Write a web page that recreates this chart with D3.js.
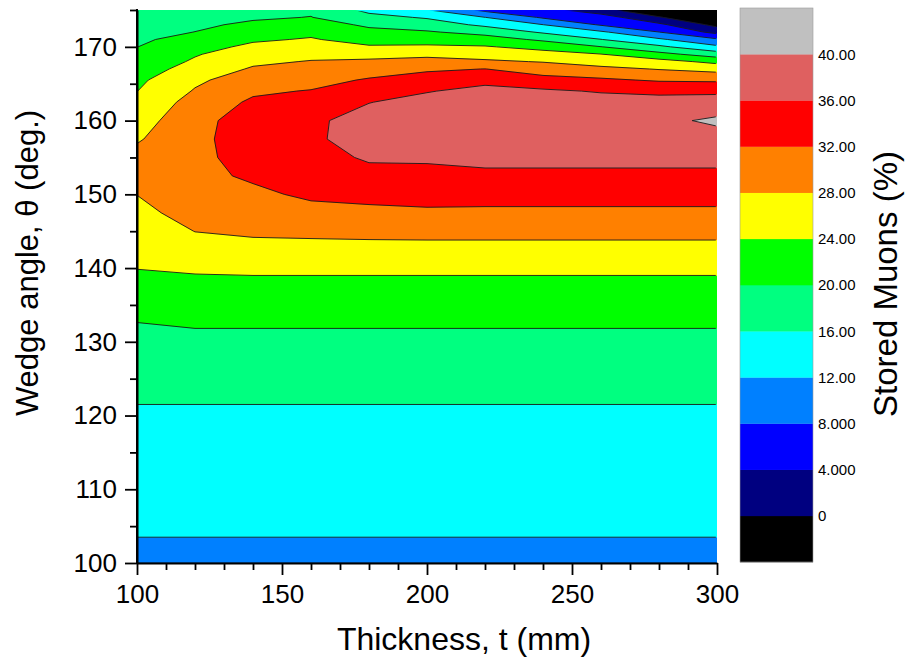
<!DOCTYPE html>
<html><head><meta charset="utf-8">
<script src="https://cdn.jsdelivr.net/npm/d3@7"></script>
<style>
body{margin:0;background:#fff}
svg{display:block}
text{font-family:"Liberation Sans",Arial,Helvetica,sans-serif;fill:#000}
</style>
</head><body>
<svg id="chart" width="910" height="660"></svg>
<script>
// ---------------- data ----------------
const thickness = [100,120,140,160,180,200,220,240,260,280,300];
const angles = [100,105,110,120,125,130,135,140,142.5,145,147.5,150,152.5,155,157.5,160,162.5,164,165.5,167,168,169,170,171,172,173,174,175];
// stored muons (%) : one profile (over angles) per thickness
const muonsT100 = [10.6,12.6,13.5,15.4,17.4,18.9,21.0,24.1,25.0,26.0,27.0,28.05,29.0,29.2,27.6,26.2,24.8,23.95,23.2,22.0,21.4,20.6,19.95,19.3,18.7,18.1,17.6,17.1];
const muonsT120 = [10.6,12.6,13.5,15.4,17.4,19.2,21.4,24.5,26.6,28.05,29.4,30.4,31.1,31.1,31.0,30.8,29.5,28.3,27.3,25.6,24.5,23.7,22.6,21.5,20.05,19.3,18.8,18.4];
const muonsT140 = [10.6,12.6,13.5,15.4,17.4,19.2,21.4,24.65,26.8,28.6,30.0,31.3,32.5,33.4,34.0,33.8,32.6,31.4,30.0,28.4,27.3,26.1,24.8,23.5,22.3,20.7,19.5,18.6];
const muonsT160 = [10.6,12.6,13.5,15.4,17.4,19.2,21.4,24.65,26.8,28.8,30.9,32.6,33.8,34.8,35.5,35.3,33.6,32.2,30.6,29.0,28.2,27.0,25.6,24.3,23.2,21.9,20.1,19.4];
const muonsT180 = [10.6,12.6,13.5,15.4,17.4,19.2,21.4,24.65,26.8,29.0,31.2,33.0,35.0,36.4,37.3,37.5,35.9,34.2,32.4,30.1,28.6,26.8,24.4,22.6,21.1,19.3,17.2,15.0];
const muonsT200 = [10.6,12.6,13.5,15.4,17.4,19.2,21.4,24.65,26.8,29.1,31.4,33.4,35.2,36.4,37.8,38.2,37.2,35.8,33.8,31.4,29.4,27.0,24.6,22.4,20.4,18.0,15.6,12.2];
const muonsT220 = [10.6,12.6,13.5,15.4,17.4,19.2,21.4,24.65,26.8,29.1,31.3,33.4,35.4,36.8,38.2,38.8,38.3,37.0,35.1,32.05,28.6,26.4,24.3,21.8,18.7,15.2,12.05,7.0];
const muonsT240 = [10.6,12.6,13.5,15.4,17.4,19.2,21.4,24.65,26.8,29.1,31.3,33.4,35.4,36.8,38.3,39.1,38.1,36.6,33.3,30.2,27.8,25.4,22.8,19.3,15.5,12.05,7.5,5.5];
const muonsT260 = [10.6,12.6,13.5,15.4,17.4,19.2,21.4,24.65,26.8,29.1,31.3,33.4,35.4,36.8,38.4,39.3,37.6,35.7,32.6,29.0,26.2,24.1,20.1,16.1,12.6,7.6,6.0,1.5];
const muonsT280 = [10.6,12.6,13.5,15.4,17.4,19.2,21.4,24.65,26.8,29.1,31.3,33.4,35.4,36.8,38.5,39.2,37.4,35.2,31.6,27.8,25.4,21.2,16.8,12.6,8.05,4.9,0.4,-4.0];
const muonsT300 = [10.6,12.6,13.5,15.4,17.4,19.2,21.4,24.65,26.8,29.1,31.3,33.4,35.4,36.8,38.6,40.6,37.8,35.2,31.4,26.6,23.0,18.0,12.8,8.6,2.8,-1.2,-5.0,-9.0];
const storedMuons = [muonsT100,muonsT120,muonsT140,muonsT160,muonsT180,muonsT200,muonsT220,muonsT240,muonsT260,muonsT280,muonsT300];

const levels = [0,4,8,12,16,20,24,28,32,36,40];
const levelLabels = ["0","4.000","8.000","12.00","16.00","20.00","24.00","28.00","32.00","36.00","40.00"];
const bandColors = ["#000000","#000080","#0000ff","#0080ff","#00ffff","#00ff80","#00ff00","#ffff00","#ff8000","#ff0000","#df6060","#c0c0c0"];
const xTicks = [100,150,200,250,300];
const xMinor = [110,120,130,140,160,170,180,190,210,220,230,240,260,270,280,290];
const yTicks = [100,110,120,130,140,150,160,170];
const yMinor = [105,115,125,135,145,155,165,175];

// ---------------- chart ----------------
const svg = d3.select("#chart");
const L = 137, R = 717, T = 10, B = 563;
const x = d3.scaleLinear([100,300],[L,R]);
const y = d3.scaleLinear([100,175],[B,T]);

const nx = thickness.length, ny = angles.length;
const values = new Array(nx*ny);
for (let j=0;j<ny;j++) for (let i=0;i<nx;i++) values[j*nx+i] = storedMuons[i][j];
const thresholds = [d3.min(values)-1, ...levels];
const contours = d3.contours().size([nx,ny]).thresholds(thresholds)(values);

const colIdx = d3.scaleLinear().domain(d3.range(nx)).range(thickness).clamp(true);
const rowIdx = d3.scaleLinear().domain(d3.range(ny)).range(angles).clamp(true);
const proj = d3.geoTransform({point(px,py){ this.stream.point(x(colIdx(px-0.5)), y(rowIdx(py-0.5))); }});
const path = d3.geoPath(proj);

const defs = svg.append("defs");
defs.append("clipPath").attr("id","plotClip").append("rect")
  .attr("x",L).attr("y",T).attr("width",R-L).attr("height",B-T);
defs.append("clipPath").attr("id","lineClip").append("rect")
  .attr("x",L+1).attr("y",T+1.2).attr("width",R-L-2.2).attr("height",B-T-2);

svg.append("g").attr("clip-path","url(#plotClip)")
  .selectAll("path").data(contours).join("path")
  .attr("d",path)
  .attr("fill",(d,i)=>bandColors[i])
  .attr("stroke",(d,i)=>bandColors[i]).attr("stroke-width",0.3);

svg.append("g").attr("clip-path","url(#lineClip)")
  .selectAll("path").data(contours.slice(1)).join("path")
  .attr("d",path)
  .attr("fill","none")
  .attr("stroke","#1a1a1a").attr("stroke-width",0.9);

// axes
function styleAxis(g){
  g.select(".domain").attr("stroke","#000").attr("stroke-width",2);
  g.selectAll(".tick line").attr("stroke","#000").attr("stroke-width",1.8);
  g.selectAll(".tick text").attr("font-size",26).attr("fill","#000")
    .attr("font-family","'Liberation Sans',Arial,sans-serif");
}
const gx = svg.append("g").attr("transform",`translate(0,${B})`)
  .call(d3.axisBottom(x).tickValues(xTicks).tickFormat(d3.format("d")).tickSize(12).tickSizeOuter(0).tickPadding(10));
styleAxis(gx);
svg.append("g").attr("transform",`translate(0,${B})`)
  .call(d3.axisBottom(x).tickValues(xMinor).tickFormat("").tickSize(7).tickSizeOuter(0))
  .call(g=>{g.select(".domain").remove(); g.selectAll(".tick line").attr("stroke","#000").attr("stroke-width",1.8);});

const gy = svg.append("g").attr("transform",`translate(${L},0)`)
  .call(d3.axisLeft(y).tickValues(yTicks).tickFormat(d3.format("d")).tickSize(12).tickSizeOuter(0).tickPadding(8));
styleAxis(gy);
svg.append("g").attr("transform",`translate(${L},0)`)
  .call(d3.axisLeft(y).tickValues(yMinor).tickFormat("").tickSize(7).tickSizeOuter(0))
  .call(g=>{g.select(".domain").remove(); g.selectAll(".tick line").attr("stroke","#000").attr("stroke-width",1.8);});
// extend left axis line to the top
svg.append("line").attr("x1",L).attr("x2",L).attr("y1",T-1).attr("y2",B).attr("stroke","#000").attr("stroke-width",2);

// titles
svg.append("text").attr("x",464).attr("y",650).attr("text-anchor","middle")
  .attr("font-size",32).text("Thickness, t (mm)");
svg.append("text").attr("transform","translate(38,263) rotate(-90)").attr("text-anchor","middle")
  .attr("font-size",31).text("Wedge angle, θ (deg.)");

// colour bar
const cbL = 740, cbW = 73, cbT = 8, cbB = 562;
const bandH = (cbB-cbT)/bandColors.length;
const cb = svg.append("g");
cb.selectAll("rect").data(bandColors).join("rect")
  .attr("x",cbL).attr("width",cbW)
  .attr("y",(d,i)=>cbB-(i+1)*bandH).attr("height",bandH+0.3)
  .attr("fill",d=>d);
cb.append("rect").attr("x",cbL).attr("y",cbT).attr("width",cbW).attr("height",cbB-cbT)
  .attr("fill","none").attr("stroke","#9a9a9a").attr("stroke-width",0.6);
cb.selectAll("text").data(levels).join("text")
  .attr("x",cbL+cbW+5).attr("y",(d,i)=>cbB-(i+1)*bandH)
  .attr("dy","0.36em").attr("font-size",15).attr("fill","#111")
  .text((d,i)=>levelLabels[i]);
svg.append("text").attr("transform","translate(897,284) rotate(-90)").attr("text-anchor","middle")
  .attr("font-size",33).attr("fill","#111").text("Stored Muons (%)");
</script>
</body></html>
